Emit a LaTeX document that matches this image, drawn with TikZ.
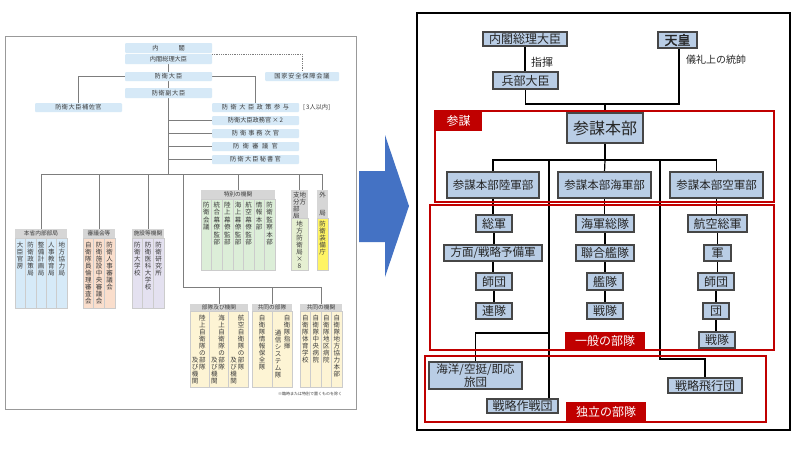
\documentclass[tikz,border=0pt]{standalone}
\usepackage{fontspec}
\setmainfont{Noto Sans CJK JP}
\newfontfamily\jpbold[FakeBold=2]{Noto Sans CJK JP}
\pgfdeclarelayer{back}
\pgfdeclarelayer{bg}
\pgfsetlayers{back,bg,main}
\definecolor{lblue}{RGB}{214,233,247}
\definecolor{hgray}{RGB}{214,214,214}
\definecolor{cblue}{RGB}{214,234,248}
\definecolor{cpeach}{RGB}{250,222,204}
\definecolor{clav}{RGB}{228,225,240}
\definecolor{cgreen}{RGB}{220,238,216}
\definecolor{clgreen}{RGB}{230,240,210}
\definecolor{cyel}{RGB}{255,244,100}
\definecolor{ccream}{RGB}{253,244,212}
\definecolor{lline}{RGB}{125,125,125}
\definecolor{ltext}{RGB}{60,60,60}
\definecolor{rfill}{RGB}{185,205,229}
\definecolor{rborder}{RGB}{70,70,70}
\definecolor{rtext}{RGB}{38,38,38}
\definecolor{rred}{RGB}{192,0,0}
\definecolor{arrowblue}{RGB}{68,114,196}
\newdimen\vtskip \vtskip=7pt
\newcommand\vt[1]{\vtop{\baselineskip=\vtskip\lineskiplimit=-20pt\lineskip=0pt\vA#1\relax}}
\def\vA#1{\ifx#1\relax\else\hbox to 1em{\hss#1\hss}\expandafter\vA\fi}
\newdimen\spk
\newcommand\spaced[2]{\spk=#1pt\relax\spA#2\relax}
\def\spA#1{#1\spB}
\def\spB#1{\ifx#1\relax\else\kern\spk#1\expandafter\spB\fi}
\newcommand\bx[7][]{\node[#1,minimum width={(#5)-(#3)},minimum height={(#6)-(#4)}] (#2) at ({((#3)+(#5))/2},{((#4)+(#6))/2}) {#7};}
\newcommand\cols[7]{\foreach \i in {1,...,#6}{%
  \pgfmathsetmacro\xa{#2+(\i-1)*(#3-#2)/#6}%
  \pgfmathsetmacro\xb{#2+\i*(#3-#2)/#6}%
  \bx[colst,fill=#7]{#1\i}{\xa}{#4}{\xb}{#5}{}}}
\newcommand\coltexts[3]{\foreach \tx [count=\i] in {#3}{%
  \node[vtxt,anchor=north,yshift=#2] (#1t\i) at (#1\i.north) {\expandafter\vt\expandafter{\tx}};}}
\tikzset{
 lb/.style={fill=lblue, rounded corners=1pt, inner sep=0pt, outer sep=0pt, text=ltext, font=\fontsize{6.2}{7}\selectfont},
 hd/.style={fill=hgray, inner sep=0pt, outer sep=0pt, text=ltext, font=\fontsize{5.7}{6}\selectfont},
 colst/.style={draw=black!20, line width=0.4pt, inner sep=0pt, outer sep=0pt},
 vtxt/.style={inner sep=0pt, outer sep=0pt, text=ltext, font=\fontsize{6.5}{7}\selectfont},
 ll/.style={draw=lline, line width=0.8pt},
 rn/.style={draw=rborder, fill=rfill, line width=1.1pt, inner sep=0pt, outer sep=0pt, text=rtext, font=\fontsize{12}{14}\selectfont},
 rnm/.style={rn, font=\fontsize{11.5}{13}\selectfont},
 rl/.style={draw=black, line width=1.2pt},
 rframe/.style={draw=rred, line width=1.8pt, inner sep=0pt, outer sep=0pt},
 rlab/.style={fill=rred, text=white, inner sep=0pt, outer sep=0pt, font=\fontsize{12}{14}\selectfont},
 rtxt/.style={inner sep=0pt, text=rtext, font=\fontsize{11}{13}\selectfont},
}
\begin{document}
\begin{tikzpicture}[x=1pt,y=-1pt]
\begin{pgfonlayer}{back}
\fill[white] (0,0) rectangle (800,450);
\end{pgfonlayer}
\useasboundingbox (0,0) rectangle (800,450);
% ===== left panel =====
\bx[draw=gray!80, line width=0.8pt]{lpanel}{5}{36}{356}{409}{}
\bx[lb]{nk}{125}{43}{212}{53}{内\hspace{20pt}閣}
\bx[lb]{sori}{125}{54}{212}{64}{内閣総理大臣}
\bx[lb]{boei}{125}{72}{212}{81}{\spaced{1}{防衛大臣}}
\bx[lb]{fuku}{125}{88}{212}{98}{\spaced{0.6}{防衛副大臣}}
\bx[lb]{nsc}{265}{72}{339}{81}{\spaced{0.8}{国家安全保障会議}}
\bx[lb]{hosa}{35}{103}{122}{112}{\spaced{0.5}{防衛大臣補佐官}}
\bx[lb]{sanyo}{212}{103}{299}{112}{\spaced{2.5}{防衛大臣政策参与}}
\bx[lb]{seimu}{212}{116}{299}{125}{防衛大臣政務官\,×\,2}
\bx[lb]{jimu}{212}{129}{299}{138}{\spaced{2}{防衛事務次官}}
\bx[lb]{shingi}{212}{142}{299}{151}{\spaced{3.4}{防衛審議官}}
\bx[lb]{hisho}{212}{155}{299}{164}{\spaced{1.2}{防衛大臣秘書官}}
\node[vtxt, anchor=west, font=\fontsize{6.2}{7}\selectfont] (sanin) at (303,107.5) {[\,3人以内]};
% groups upper
\bx[hd]{h1}{15}{229}{67}{238}{本省内部部局}
\cols{a}{15}{67}{238}{308}{5}{cblue}
\coltexts{a}{-4pt}{大臣官房,防衛政策局,整備計画局,人事教育局,地方協力局}
\bx[hd]{h2}{83}{229}{115}{238}{審議会等}
\cols{b}{83}{115}{238}{308}{3}{cpeach}
\coltexts{b}{-4pt}{自衛隊員倫理審査会,防衛施設中央審議会,防衛人事審議会}
\bx[hd]{h3}{132}{229}{164}{238}{施設等機関}
\cols{c}{132}{164}{238}{308}{3}{clav}
\coltexts{c}{-4pt}{防衛大学校,防衛医科大学校,防衛研究所}
\bx[hd]{h4}{201}{190}{275}{199}{特別の機関}
\cols{d}{201}{275}{199}{270}{7}{cgreen}
\vtskip=7.5pt
\coltexts{d}{-3pt}{防衛会議,統合幕僚監部,陸上幕僚監部,海上幕僚監部,航空幕僚監部,情報本部,防衛監察本部}
\vtskip=7pt
\bx[hd]{h5}{291}{190}{308}{218}{}
\node[vtxt,anchor=north,yshift=-2.5pt] (h5t) at (h5.north) {\vt{支分部局}\vt{地方}};
\bx[colst,fill=clgreen]{e1}{291}{218}{308}{270}{}
\node[vtxt,anchor=north,yshift=-3pt] (e1t) at (e1.north) {\vt{地方防衛局×8}};
\bx[hd]{h6}{317}{190}{328}{218}{}
\node[vtxt,anchor=north,yshift=-2pt] (h6a) at (h6.north) {外};
\node[vtxt,anchor=south,yshift=2pt] (h6b) at (h6.south) {局};
\bx[colst,fill=cyel]{f1}{317}{218}{328}{270}{}
\node[vtxt,anchor=north,yshift=-3pt] (f1t) at (f1.north) {\vt{防衛装備庁}};
% groups lower
\bx[hd]{h7}{190}{304}{248}{311}{部隊及び機関}
\cols{g}{190}{248}{311}{387}{3}{ccream}
\foreach \tx [count=\i] in {陸上,海上,航空}{%
  \node[vtxt,anchor=north,yshift=-4pt] (gr\i) at ([xshift=-7pt]g\i.north east) {\expandafter\vt\expandafter{\tx 自衛隊の部隊}};
  \node[vtxt,anchor=south,yshift=3pt] (gl\i) at ([xshift=5pt]g\i.south west) {\vt{及び機関}};}
\bx[hd]{h8}{252}{304}{292}{311}{共同の部隊}
\cols{k}{252}{292}{311}{387}{2}{ccream}
\node[vtxt,anchor=north,yshift=-4pt] (kt1) at (k1.north) {\vt{自衛隊情報保全隊}};
\node[vtxt,anchor=north,yshift=-4pt] (kt2) at ([xshift=-5pt]k2.north east) {\vt{自衛隊指揮}};
\node[vtxt,anchor=north,yshift=-19pt] (kt3) at ([xshift=6pt]k2.north west) {\vt{通信システム隊}};
\bx[hd]{h9}{300}{304}{342}{311}{共同の機関}
\cols{m}{300}{342}{311}{387}{4}{ccream}
\coltexts{m}{-4pt}{自衛隊体育学校,自衛隊中央病院,自衛隊地区病院,自衛隊地方協力本部}
\node[vtxt,anchor=east,font=\fontsize{4}{5}\selectfont] (note) at (342,394) {※臨時または特別で置くものを除く};
% left connectors
\coordinate (busL) at (41,174);
\coordinate (lb0) at (183,174);
\coordinate (lb1) at (183,287);
\coordinate (lb2) at (321,287);
\begin{pgfonlayer}{bg}
\draw[ll] (h1.north) |- (h6.north |- busL) -- (h6.north);
\draw[ll] (sori.south) -- (sori.south |- busL);
\draw[ll] (boei.west) -| (hosa.north);
\draw[ll] (boei.east) -| (sanyo.north);
\draw[ll,densely dotted] (sori.north east) -| (nsc.north);
\foreach \n in {seimu,jimu,shingi,hisho} \draw[ll] (\n.west) -- (\n.west -| sori.south);
\foreach \n in {h2,h3,h4,h5} \draw[ll] (\n.north) -- (\n.north |- busL);
\draw[ll] (lb0) -- (lb1) -- (lb2) -- (h9.north);
\foreach \n in {h7,h8} \draw[ll] (\n.north) -- (\n.north |- lb1);
\end{pgfonlayer}
% ===== arrow =====
\fill[arrowblue] (359,171) -- (385,171) -- (385,135) -- (409,206) -- (385,277) -- (385,242) -- (359,242) -- cycle;
% ===== right panel =====
\bx[draw=black, line width=1.8pt]{rpanel}{417}{13}{790}{430}{}
\bx[rframe]{fr1}{435}{111}{774}{202}{}
\bx[rframe]{fr2}{430}{205}{774}{350}{}
\bx[rframe]{fr3}{425}{356}{766}{422}{}
\bx[rn]{rsori}{483}{32}{567}{46}{内閣総理大臣}
\bx[rn,font=\jpbold\fontsize{13}{15}\selectfont]{tenno}{658}{32}{697}{48}{天皇}
\bx[rn]{heibu}{493}{72}{558}{89}{兵部大臣}
\node[rtxt,anchor=west] (shiki) at (531,62) {指揮};
\node[rtxt,anchor=west,font=\fontsize{10}{12}\selectfont] (girei) at (686,60) {儀礼上の統帥};
\bx[rn,font=\fontsize{16}{18}\selectfont]{sanbo}{567}{113}{643}{143}{参謀本部}
\bx[rnm]{riku}{447}{172}{539}{198}{参謀本部陸軍部}
\bx[rnm]{kai}{558}{172}{651}{198}{参謀本部海軍部}
\bx[rnm]{ku}{670}{172}{763}{198}{参謀本部空軍部}
\bx[rn]{sogun}{476}{215}{512}{232}{総軍}
\bx[rnm]{homen}{444}{245}{542}{261}{方面/戦略予備軍}
\bx[rn]{shidanA}{476}{273}{512}{290}{師団}
\bx[rn]{rentai}{476}{303}{512}{319}{連隊}
\bx[rn]{kaiso}{576}{215}{634}{232}{海軍総隊}
\bx[rn]{rengo}{576}{245}{634}{261}{聯合艦隊}
\bx[rn]{kantai}{587}{273}{623}{290}{艦隊}
\bx[rn]{sentaiA}{587}{303}{623}{319}{戦隊}
\bx[rn]{kokuso}{688}{215}{747}{232}{航空総軍}
\bx[rn]{gun}{704}{245}{731}{261}{軍}
\bx[rn]{shidanB}{698}{273}{734}{290}{師団}
\bx[rn]{dan}{703}{303}{729}{319}{団}
\bx[rn]{sentaiB}{699}{332}{735}{348}{戦隊}
\bx[rnm,align=center,font=\fontsize{11.5}{12.5}\selectfont]{kaiyo}{429}{362}{522}{389}{海洋/空挺/即応\\旅団}
\bx[rn]{senryaku}{487}{399}{558}{413}{戦略作戦団}
\bx[rn]{hiko}{668}{378}{742}{393}{戦略飛行団}
\bx[rlab]{lab1}{435}{111}{482}{131}{参謀}
\bx[rlab]{lab2}{565}{332}{645}{350}{一般の部隊}
\bx[rlab]{lab3}{566}{402}{646}{422}{独立の部隊}
\coordinate (jn) at (605,104);
\coordinate (sb) at (605,160);
\coordinate (s1) at (549,160);
\coordinate (s1b) at (549,333);
\coordinate (s2) at (660,160);
\coordinate (s2b) at (660,359);
\begin{pgfonlayer}{bg}
\draw[rl] (rsori.south) -- (rsori.south |- heibu.north);
\draw[rl] (heibu.south) |- (jn) -| ([xshift=1.5pt]tenno.south);
\draw[rl] (jn) -- (sanbo.north);
\draw[rl] (sanbo.south) -- (sb);
\draw[rl] (riku.north) |- (sb) -| (ku.north);
\draw[rl] (sb) -- (kai.north);
\foreach \a/\b in {riku/sogun,sogun/homen,homen/shidanA,shidanA/rentai,kai/kaiso,kaiso/rengo,rengo/kantai,kantai/sentaiA,ku/kokuso,kokuso/gun,gun/shidanB,shidanB/dan,dan/sentaiB}
  \draw[rl] (\a.south) -- (\a.south |- \b.north);
\draw[rl] (s1) -- (s1 |- senryaku.north);
\draw[rl] (s1b) -| (kaiyo.north);
\draw[rl] (s2) -- (s2b) -| (hiko.north);
\end{pgfonlayer}
\end{tikzpicture}
\end{document}
